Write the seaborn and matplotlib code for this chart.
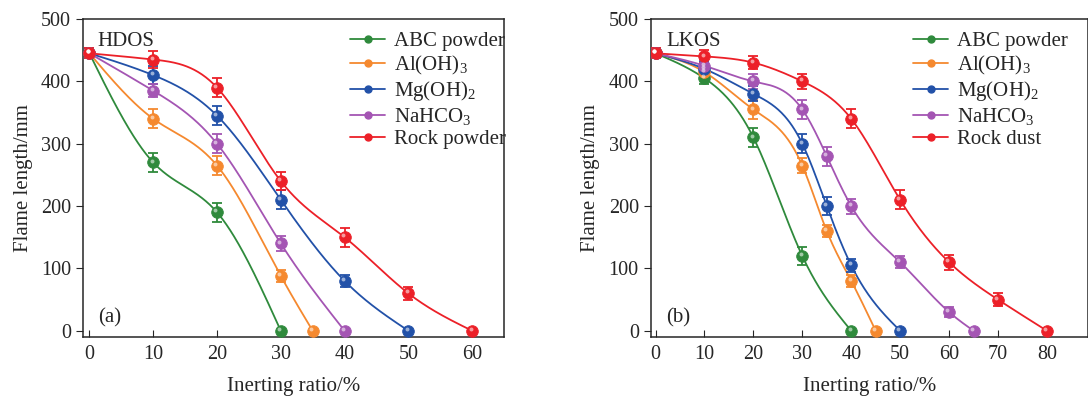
import numpy as np
import pandas as pd
import matplotlib
matplotlib.use("Agg")
import matplotlib.pyplot as plt
import seaborn as sns

# ---- data ----
# (a) HDOS
hd_abc_x = [0, 10, 20, 30]
hd_abc_y = [445, 270, 190, 0]
hd_abc_e = [8, 15, 15, 0]
hd_al_x = [0, 10, 20, 30, 35]
hd_al_y = [445, 340, 265, 88, 0]
hd_al_e = [8, 15, 15, 10, 0]
hd_mg_x = [0, 10, 20, 30, 40, 50]
hd_mg_y = [445, 410, 345, 210, 80, 0]
hd_mg_e = [8, 15, 15, 15, 10, 0]
hd_na_x = [0, 10, 20, 30, 40]
hd_na_y = [445, 385, 300, 140, 0]
hd_na_e = [8, 10, 15, 12, 0]
hd_rock_x = [0, 10, 20, 30, 40, 50, 60]
hd_rock_y = [445, 435, 390, 240, 150, 60, 0]
hd_rock_e = [8, 13, 15, 15, 15, 10, 0]

# (b) LKOS
lk_abc_x = [0, 10, 20, 30, 40]
lk_abc_y = [445, 405, 310, 120, 0]
lk_abc_e = [8, 10, 15, 15, 0]
lk_al_x = [0, 10, 20, 30, 35, 40, 45]
lk_al_y = [445, 415, 355, 265, 160, 80, 0]
lk_al_e = [8, 10, 15, 12, 10, 10, 0]
lk_mg_x = [0, 10, 20, 30, 35, 40, 50]
lk_mg_y = [445, 420, 380, 300, 200, 105, 0]
lk_mg_e = [8, 12, 12, 15, 15, 10, 0]
lk_na_x = [0, 10, 20, 30, 35, 40, 50, 60, 65]
lk_na_y = [445, 425, 400, 355, 280, 200, 110, 30, 0]
lk_na_e = [8, 10, 12, 15, 15, 12, 10, 8, 0]
lk_rock_x = [0, 10, 20, 30, 40, 50, 60, 70, 80]
lk_rock_y = [445, 440, 430, 400, 340, 210, 110, 50, 0]
lk_rock_e = [8, 10, 10, 12, 15, 15, 12, 10, 0]

colors = ["#2f8a3c", "#f5892f", "#2251a8", "#a455b3", "#ec2028"]


def spline_curve(x, y, n=300):
    # natural cubic spline through the measured points
    x = np.asarray(x, float)
    y = np.asarray(y, float)
    k = len(x)
    h = np.diff(x)
    A = np.zeros((k, k))
    r = np.zeros(k)
    A[0, 0] = A[-1, -1] = 1
    for i in range(1, k - 1):
        A[i, i - 1] = h[i - 1]
        A[i, i] = 2 * (h[i - 1] + h[i])
        A[i, i + 1] = h[i]
        r[i] = 6 * ((y[i + 1] - y[i]) / h[i] - (y[i] - y[i - 1]) / h[i - 1])
    M = np.linalg.solve(A, r)
    xs = np.linspace(x[0], x[-1], n)
    j = np.clip(np.searchsorted(x, xs) - 1, 0, k - 2)
    a = x[j + 1] - xs
    b = xs - x[j]
    hj = h[j]
    ys = (M[j] * a**3 / (6 * hj) + M[j + 1] * b**3 / (6 * hj)
          + (y[j] / hj - M[j] * hj / 6) * a
          + (y[j + 1] / hj - M[j + 1] * hj / 6) * b)
    return xs, ys


def draw_panel(ax, series, labels, name, tag, xmax, xticks, leg_x):
    for (x, y, e), lab, c in zip(series, labels, colors):
        xs, ys = spline_curve(x, y)
        sns.lineplot(x=xs, y=ys, ax=ax, color=c, lw=1.3, label=None)
        yerr = np.array(e, float)
        mask = yerr > 0
        ax.errorbar(np.array(x)[mask], np.array(y)[mask], yerr=yerr[mask],
                    fmt="none", ecolor=c, elinewidth=1.3, capsize=3.5,
                    capthick=1.3, zorder=3)
        sns.scatterplot(x=x, y=y, ax=ax, color=c, s=70, edgecolor=c,
                        linewidth=0.6, zorder=4)
        # small highlight to mimic the shaded balls
        ax.scatter(np.array(x) - 0.25 * xmax / 65, np.array(y) + 3,
                   s=8, color="white", alpha=0.55, linewidths=0, zorder=5)
        ax.plot([], [], color=c, lw=1.3, marker="o", ms=5, label=lab)
    ax.set_xlim(-1, xmax)
    ax.set_ylim(-10, 500)
    ax.set_xticks(xticks)
    ax.set_yticks([0, 100, 200, 300, 400, 500])
    ax.set_xlabel("Inerting ratio/%", fontsize=15, labelpad=9)
    ax.set_ylabel("Flame length/mm", fontsize=15, labelpad=6)
    ax.tick_params(axis="x", direction="in", length=5, labelsize=14.5, pad=6)
    ax.tick_params(axis="y", direction="out", length=5, labelsize=14.5)
    ax.text(0.035, 0.93, name, transform=ax.transAxes, fontsize=15,
            va="center", ha="left")
    ax.text(0.035, 0.06, tag, transform=ax.transAxes, fontsize=15,
            va="center", ha="left")
    ax.legend(loc="upper left", bbox_to_anchor=(leg_x, 0.96), frameon=False,
              fontsize=15, handlelength=1.7, handletextpad=0.4,
              labelspacing=0.12, borderpad=0, borderaxespad=0)
    for s in ax.spines.values():
        s.set_linewidth(1.1)


sns.set_style("ticks")
plt.rcParams["font.family"] = ["Liberation Serif", "DejaVu Serif"]
plt.rcParams["mathtext.fontset"] = "custom"
plt.rcParams["mathtext.rm"] = "Liberation Serif"
plt.rcParams["mathtext.it"] = "Liberation Serif:italic"

fig = plt.figure(figsize=(10.88, 3.96), dpi=100)
ax1 = fig.add_axes([0.0763, 0.149, 0.387, 0.803])
ax2 = fig.add_axes([0.598, 0.149, 0.402, 0.803])

labels_a = ["ABC powder", r"Al(OH)$_3$", r"Mg(OH)$_2$", r"NaHCO$_3$", "Rock powder"]
labels_b = ["ABC powder", r"Al(OH)$_3$", r"Mg(OH)$_2$", r"NaHCO$_3$", "Rock dust"]

series_a = [(hd_abc_x, hd_abc_y, hd_abc_e), (hd_al_x, hd_al_y, hd_al_e),
            (hd_mg_x, hd_mg_y, hd_mg_e), (hd_na_x, hd_na_y, hd_na_e),
            (hd_rock_x, hd_rock_y, hd_rock_e)]
series_b = [(lk_abc_x, lk_abc_y, lk_abc_e), (lk_al_x, lk_al_y, lk_al_e),
            (lk_mg_x, lk_mg_y, lk_mg_e), (lk_na_x, lk_na_y, lk_na_e),
            (lk_rock_x, lk_rock_y, lk_rock_e)]

draw_panel(ax1, series_a, labels_a, "HDOS", "(a)", 65, range(0, 61, 10), 0.634)
draw_panel(ax2, series_b, labels_b, "LKOS", "(b)", 88.4, range(0, 81, 10), 0.600)

fig.savefig("out.png", dpi=100)
